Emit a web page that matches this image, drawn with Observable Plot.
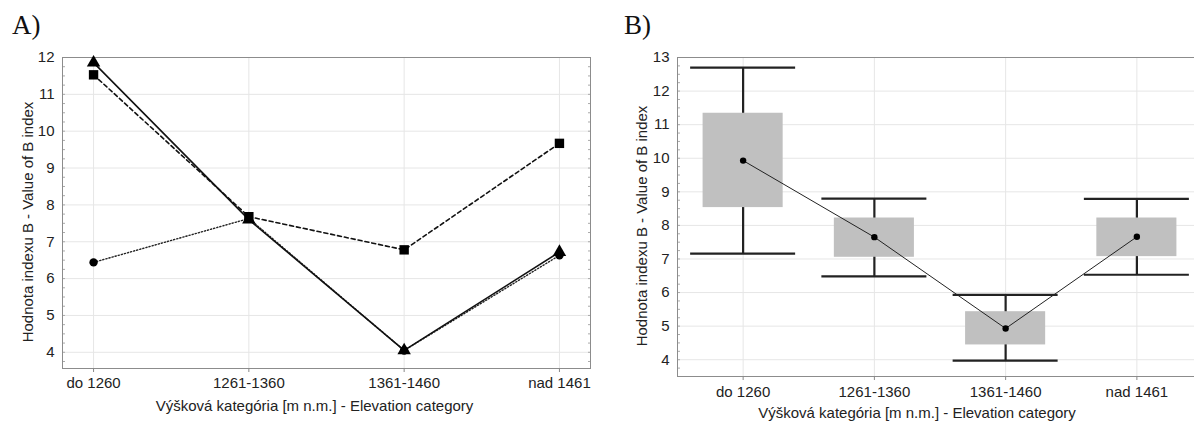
<!DOCTYPE html>
<html><head><meta charset="utf-8">
<script src="https://cdn.jsdelivr.net/npm/d3@7"></script>
<script src="https://cdn.jsdelivr.net/npm/@observablehq/plot@0.6"></script>
<style>
body{margin:0;background:#fff;}
#wrap{position:relative;width:1194px;height:421px;overflow:hidden;background:#fff;}
.panel{position:absolute;top:0;}
.tag{position:absolute;font-family:"Liberation Serif","Times New Roman",serif;font-size:27px;line-height:1;color:#111;}
</style></head><body>
<div id="wrap">
<div id="pa" class="panel" style="left:0"></div>
<div id="pb" class="panel" style="left:600px"></div>
<div class="tag" style="left:12px;top:12px">A)</div>
<div class="tag" style="left:624px;top:12px">B)</div>
</div>
<script>
// ---- data ----
const categories = ["do 1260", "1261-1360", "1361-1460", "nad 1461"];
// Panel A: three series
const seriesTriangle = [11.86, 7.60, 4.05, 6.72];
const seriesSquare   = [11.53, 7.68, 6.78, 9.67];
const seriesCircle   = [6.44, 7.63, 4.05, 6.63];
// Panel B: box plot
const boxMean     = [9.93, 7.65, 4.93, 7.66];
const boxQ1       = [8.53, 7.05, 4.44, 7.07];
const boxQ3       = [11.34, 8.22, 5.43, 8.22];
const whiskerLow  = [7.16, 6.48, 3.97, 6.53];
const whiskerHigh = [12.70, 8.80, 5.93, 8.79];
// ticks
const yTicksA = [4, 5, 6, 7, 8, 9, 10, 11, 12];
const yTicksB = [4, 5, 6, 7, 8, 9, 10, 11, 12, 13];
const yMinorA = d3.range(3.75, 12.01, 0.25);
const yMinorB = d3.range(3.5, 13.01, 0.25);
const yLabel = "Hodnota indexu B - Value of B index";
const xLabel = "Výšková kategória [m n.m.] - Elevation category";

const idx = categories.map((c, i) => i);
const fmt = i => categories[i];
const style = {fontFamily: '"Liberation Sans", Arial, sans-serif', fontSize: "15px", color: "#222", background: "transparent", overflow: "visible"};
const gridColor = "#e6e6e6";
const labelFont = {fontSize: 15, fill: "#222", textAnchor: "middle", lineAnchor: "middle"};

const plotA = Plot.plot({
  width: 600, height: 421,
  marginTop: 57, marginBottom: 53, marginLeft: 62, marginRight: 10,
  style,
  x: {type: "linear", domain: [-0.2, 3.2]},
  y: {domain: [3.56, 12]},
  marks: [
    Plot.gridY(yTicksA, {stroke: gridColor, strokeOpacity: 1}),
    Plot.gridX(idx, {stroke: gridColor, strokeOpacity: 1}),
    Plot.axisY(yMinorA, {anchor: "left", tickSize: -3, tickFormat: () => "", stroke: "#aaa", label: null}),
    Plot.axisY(yMinorA, {anchor: "right", tickSize: -3, tickFormat: () => "", stroke: "#aaa", label: null}),
    Plot.frame({stroke: "#8c8c8c"}),
    Plot.axisY(yTicksA, {tickSize: 0, tickPadding: 8, label: null}),
    Plot.axisX(idx, {tickSize: 4, stroke: "#888", tickPadding: 5, tickFormat: fmt, label: null}),
    Plot.text([yLabel], {frameAnchor: "left", rotate: -90, dx: -34, dy: 9, ...labelFont}),
    Plot.text([xLabel], {frameAnchor: "bottom", dx: -12, dy: 38, ...labelFont}),
    Plot.line(idx, {x: i => i, y: i => seriesCircle[i], stroke: "#222", strokeWidth: 1.4, strokeDasharray: "1.2,2"}),
    Plot.line(idx, {x: i => i, y: i => seriesTriangle[i], stroke: "#111", strokeWidth: 1.6}),
    Plot.line(idx, {x: i => i, y: i => seriesSquare[i], stroke: "#111", strokeWidth: 1.6, strokeDasharray: "4,3"}),
    Plot.dot(idx, {x: i => i, y: i => seriesCircle[i], r: 4.2, symbol: "circle", fill: "#000"}),
    Plot.dot(idx, {x: i => i, y: i => seriesTriangle[i], r: 5, symbol: "triangle", fill: "#000"}),
    Plot.dot(idx, {x: i => i, y: i => seriesSquare[i], r: 5.3, symbol: "square", fill: "#000"})
  ]
});
document.getElementById("pa").append(plotA);

const plotB = Plot.plot({
  width: 594, height: 421,
  marginTop: 57, marginBottom: 45, marginLeft: 77, marginRight: -8,
  style,
  x: {type: "linear", domain: [-0.5, 3.5]},
  y: {domain: [3.5, 13]},
  marks: [
    Plot.gridY(yTicksB, {stroke: gridColor, strokeOpacity: 1}),
    Plot.gridX(idx, {stroke: gridColor, strokeOpacity: 1}),
    Plot.axisY(yMinorB, {anchor: "left", tickSize: -3, tickFormat: () => "", stroke: "#aaa", label: null}),
    Plot.ruleY([3.5, 13], {stroke: "#8c8c8c"}),
    Plot.ruleX([-0.5], {stroke: "#8c8c8c"}),
    Plot.axisY(yTicksB, {tickSize: 0, tickPadding: 8, label: null}),
    Plot.axisX(idx, {tickSize: 4, stroke: "#888", tickPadding: 6, tickFormat: fmt, label: null}),
    Plot.text([yLabel], {frameAnchor: "left", rotate: -90, dx: -35, dy: 9, ...labelFont}),
    Plot.text([xLabel], {frameAnchor: "bottom", dx: -23, dy: 37, ...labelFont}),
    Plot.ruleX(idx, {x: i => i, y1: i => whiskerLow[i], y2: i => whiskerHigh[i], stroke: "#222", strokeWidth: 2.2}),
    Plot.rect(idx, {x1: i => i - 0.305, x2: i => i + 0.305, y1: i => boxQ1[i], y2: i => boxQ3[i], fill: "#c0c0c0"}),
    Plot.ruleY(idx, {x1: i => i - 0.4, x2: i => i + 0.4, y: i => whiskerLow[i], stroke: "#222", strokeWidth: 2.2}),
    Plot.ruleY(idx, {x1: i => i - 0.4, x2: i => i + 0.4, y: i => whiskerHigh[i], stroke: "#222", strokeWidth: 2.2}),
    Plot.line(idx, {x: i => i, y: i => boxMean[i], stroke: "#222", strokeWidth: 1}),
    Plot.dot(idx, {x: i => i, y: i => boxMean[i], r: 3.2, fill: "#000"})
  ]
});
document.getElementById("pb").append(plotB);
</script>
</body></html>
